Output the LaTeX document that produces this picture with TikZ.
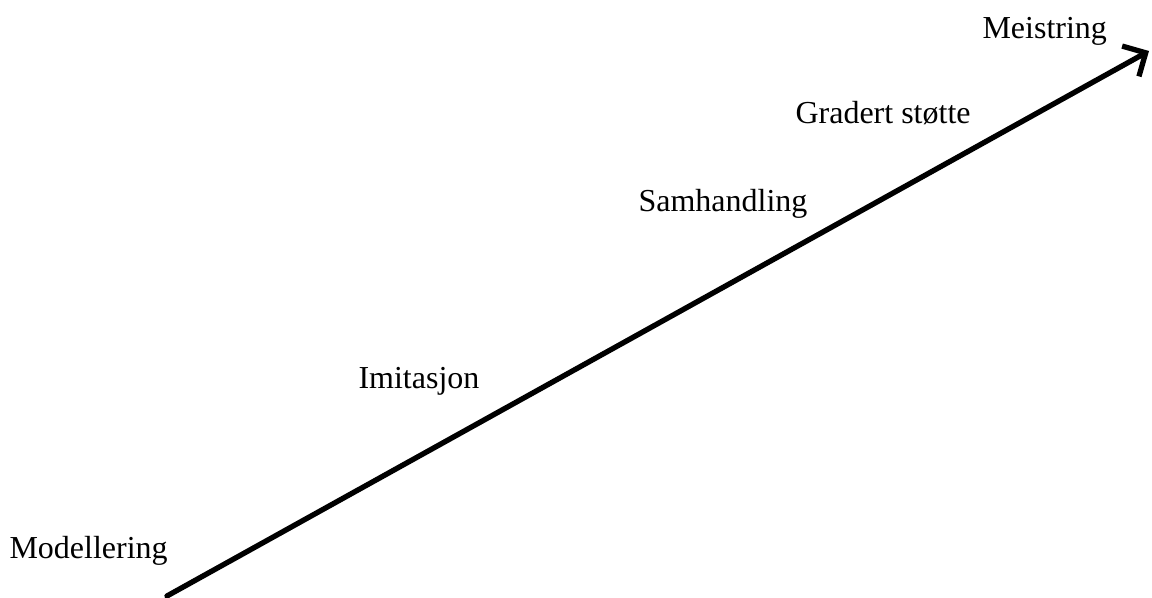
\documentclass[tikz,border=0pt]{standalone}
\usepackage{fontspec}
\setmainfont{Liberation Serif}
\usetikzlibrary{arrows.meta}

\begin{document}
\begin{tikzpicture}[x=0.375pt, y=-0.375pt, line cap=round, line join=round,
    stage/.style={anchor=base west, inner sep=0pt, font=\fontsize{12}{14}\selectfont}]

  % Frame (fixes the margins)
  \useasboundingbox (0,0) rectangle (1152,598);

  % Ends of the progression arrow
  \coordinate (start) at (167,596);
  \coordinate (goal) at (1149,51);

  % Progression arrow
  \draw[line width=2pt, -{Straight Barb[length=6.5pt, width=13pt, line width=2pt]}]
    (start) -- (goal);

  % Stages
  \node[stage] (modellering) at (9,559) {Modellering};
  \node[stage] (imitasjon) at (358,389) {Imitasjon};
  \node[stage] (samhandling) at (638,212) {Samhandling};
  \node[stage] (gradert) at (795,124) {Gradert støtte};
  \node[stage] (meistring) at (982,39) {Meistring};

\end{tikzpicture}
\end{document}
